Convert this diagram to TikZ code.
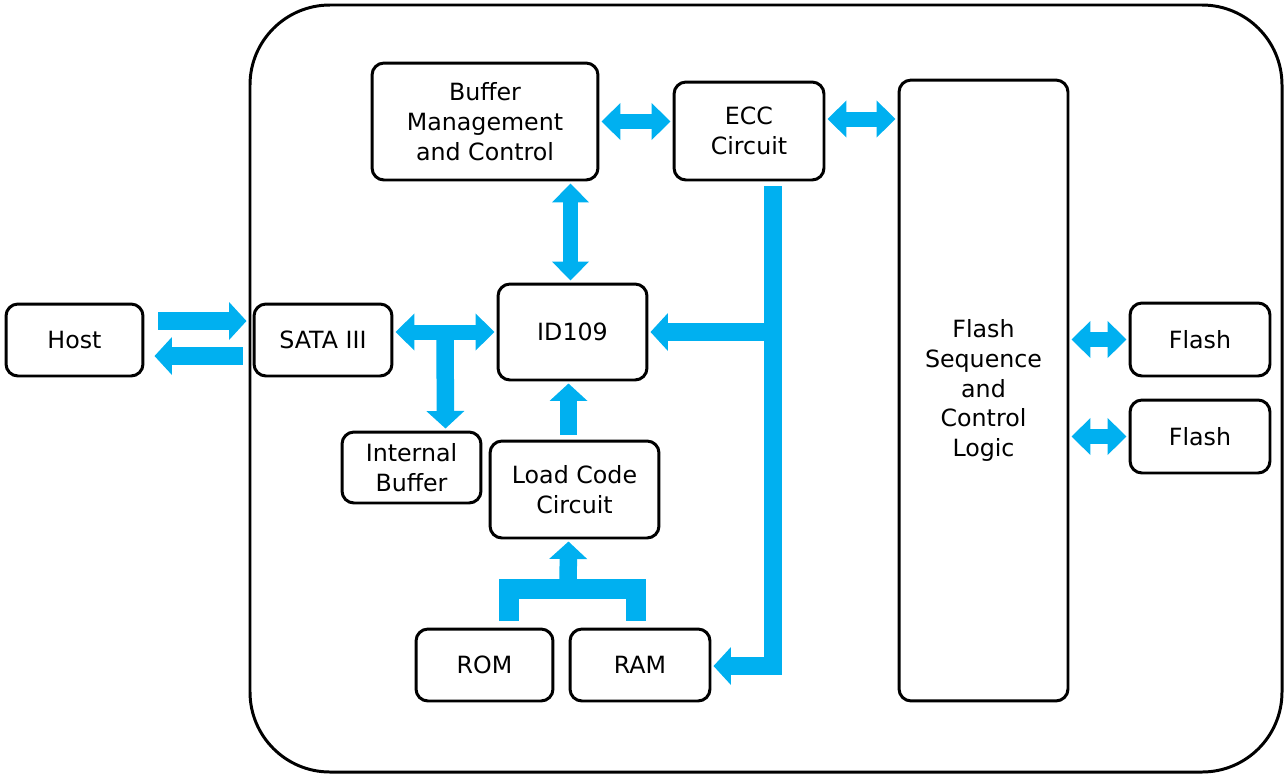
\documentclass[tikz,border=0pt]{standalone}
\usepackage{fontspec}
\setmainfont{DejaVu Sans}
\usetikzlibrary{arrows.meta}
\definecolor{busblue}{RGB}{0,176,240}

\begin{document}
\begin{tikzpicture}[x=0.02cm,y=-0.02cm,
  blk/.style={draw,line width=1.7pt,rounded corners=0.24cm,inner sep=0pt,align=center,
    font=\fontsize{13.5}{17}\selectfont},
  flow/.style={busblue,line width=0.35cm,line join=miter,
    -{Triangle[width=0.74cm,length=0.35cm]}},
  dflow/.style={busblue,line width=0.3cm,
    {Triangle[width=0.72cm,length=0.38cm]}-{Triangle[width=0.72cm,length=0.38cm]}},
  bus/.style={busblue,line width=0.4cm,line join=miter}]
\useasboundingbox (0,0) rectangle (1285,775);
\draw[line width=1.7pt,rounded corners=1.6cm] (250,5) rectangle (1282,772);
\node[blk,minimum width=2.74cm,minimum height=1.44cm] (host) at (74.5,340) {Host};
\node[blk,minimum width=2.76cm,minimum height=1.44cm] (sata) at (323,340) {SATA III};
\node[blk,minimum width=4.52cm,minimum height=2.34cm] (buf) at (485,121.5) {Buffer\\Management\\and Control};
\node[blk,minimum width=3.0cm,minimum height=1.96cm] (ecc) at (749,131) {ECC\\Circuit};
\node[blk,minimum width=3.38cm,minimum height=12.42cm] (fsc) at (983.5,390.5) {Flash\\Sequence\\and\\Control\\Logic};
\node[blk,minimum width=2.98cm,minimum height=1.92cm] (id) at (572.5,332) {ID109};
\node[blk,minimum width=2.78cm,minimum height=1.42cm] (ib) at (411.5,467.5) {Internal\\Buffer};
\node[blk,minimum width=3.38cm,minimum height=1.94cm] (load) at (574.5,489.5) {Load Code\\Circuit};
\node[blk,minimum width=2.74cm,minimum height=1.44cm] (rom) at (484.5,665) {ROM};
\node[blk,minimum width=2.8cm,minimum height=1.44cm] (ram) at (640,665) {RAM};
\node[blk,minimum width=2.8cm,minimum height=1.46cm] (f1) at (1200,339.5) {Flash};
\node[blk,minimum width=2.8cm,minimum height=1.46cm] (f2) at (1200,436.5) {Flash};
\coordinate (tee) at (445,331);
\coordinate (fork) at (568,590);
\draw[flow] ([shift={(14,-19)}]host.east) -- ([shift={(-6,-19)}]sata.west);
\draw[flow] ([shift={(-10,16)}]sata.west) -- ([shift={(10,16)}]host.east);
\draw[dflow] ([shift={(2,0)}]sata.east |- id.west) -- ([shift={(-2,0)}]id.west);
\draw[flow] (tee) -- ([shift={(34,-2)}]ib.north);
\draw[dflow] ([shift={(-2,2)}]id.north |- buf.south) -- ([shift={(-2,-2)}]id.north);
\draw[dflow] ([shift={(2,0)}]buf.east) -- ([shift={(-2,0)}]buf.east -| ecc.west);
\draw[dflow] ([shift={(2,-12)}]ecc.east) -- ([shift={(-2,-12)}]ecc.east -| fsc.west);
\draw[flow] ([shift={(24,5)}]ecc.south) |- ([shift={(2,1)}]ram.east);
\draw[flow] ([shift={(24,0)}]ecc.south |- id.east) -- ([shift={(2,0)}]id.east);
\draw[flow] ([shift={(-6,-5)}]load.north) -- ([shift={(-4,2)}]id.south);
\draw[bus] ([shift={(24,-7)}]rom.north) |- ([shift={(-4,-39)}]ram.north) -- ([shift={(-4,-7)}]ram.north);
\draw[flow] (fork) -- ([shift={(-6,2)}]load.south);
\draw[dflow] ([shift={(2,0)}]f1.west -| fsc.east) -- ([shift={(-2,0)}]f1.west);
\draw[dflow] ([shift={(2,0)}]f2.west -| fsc.east) -- ([shift={(-2,0)}]f2.west);
\end{tikzpicture}
\end{document}
